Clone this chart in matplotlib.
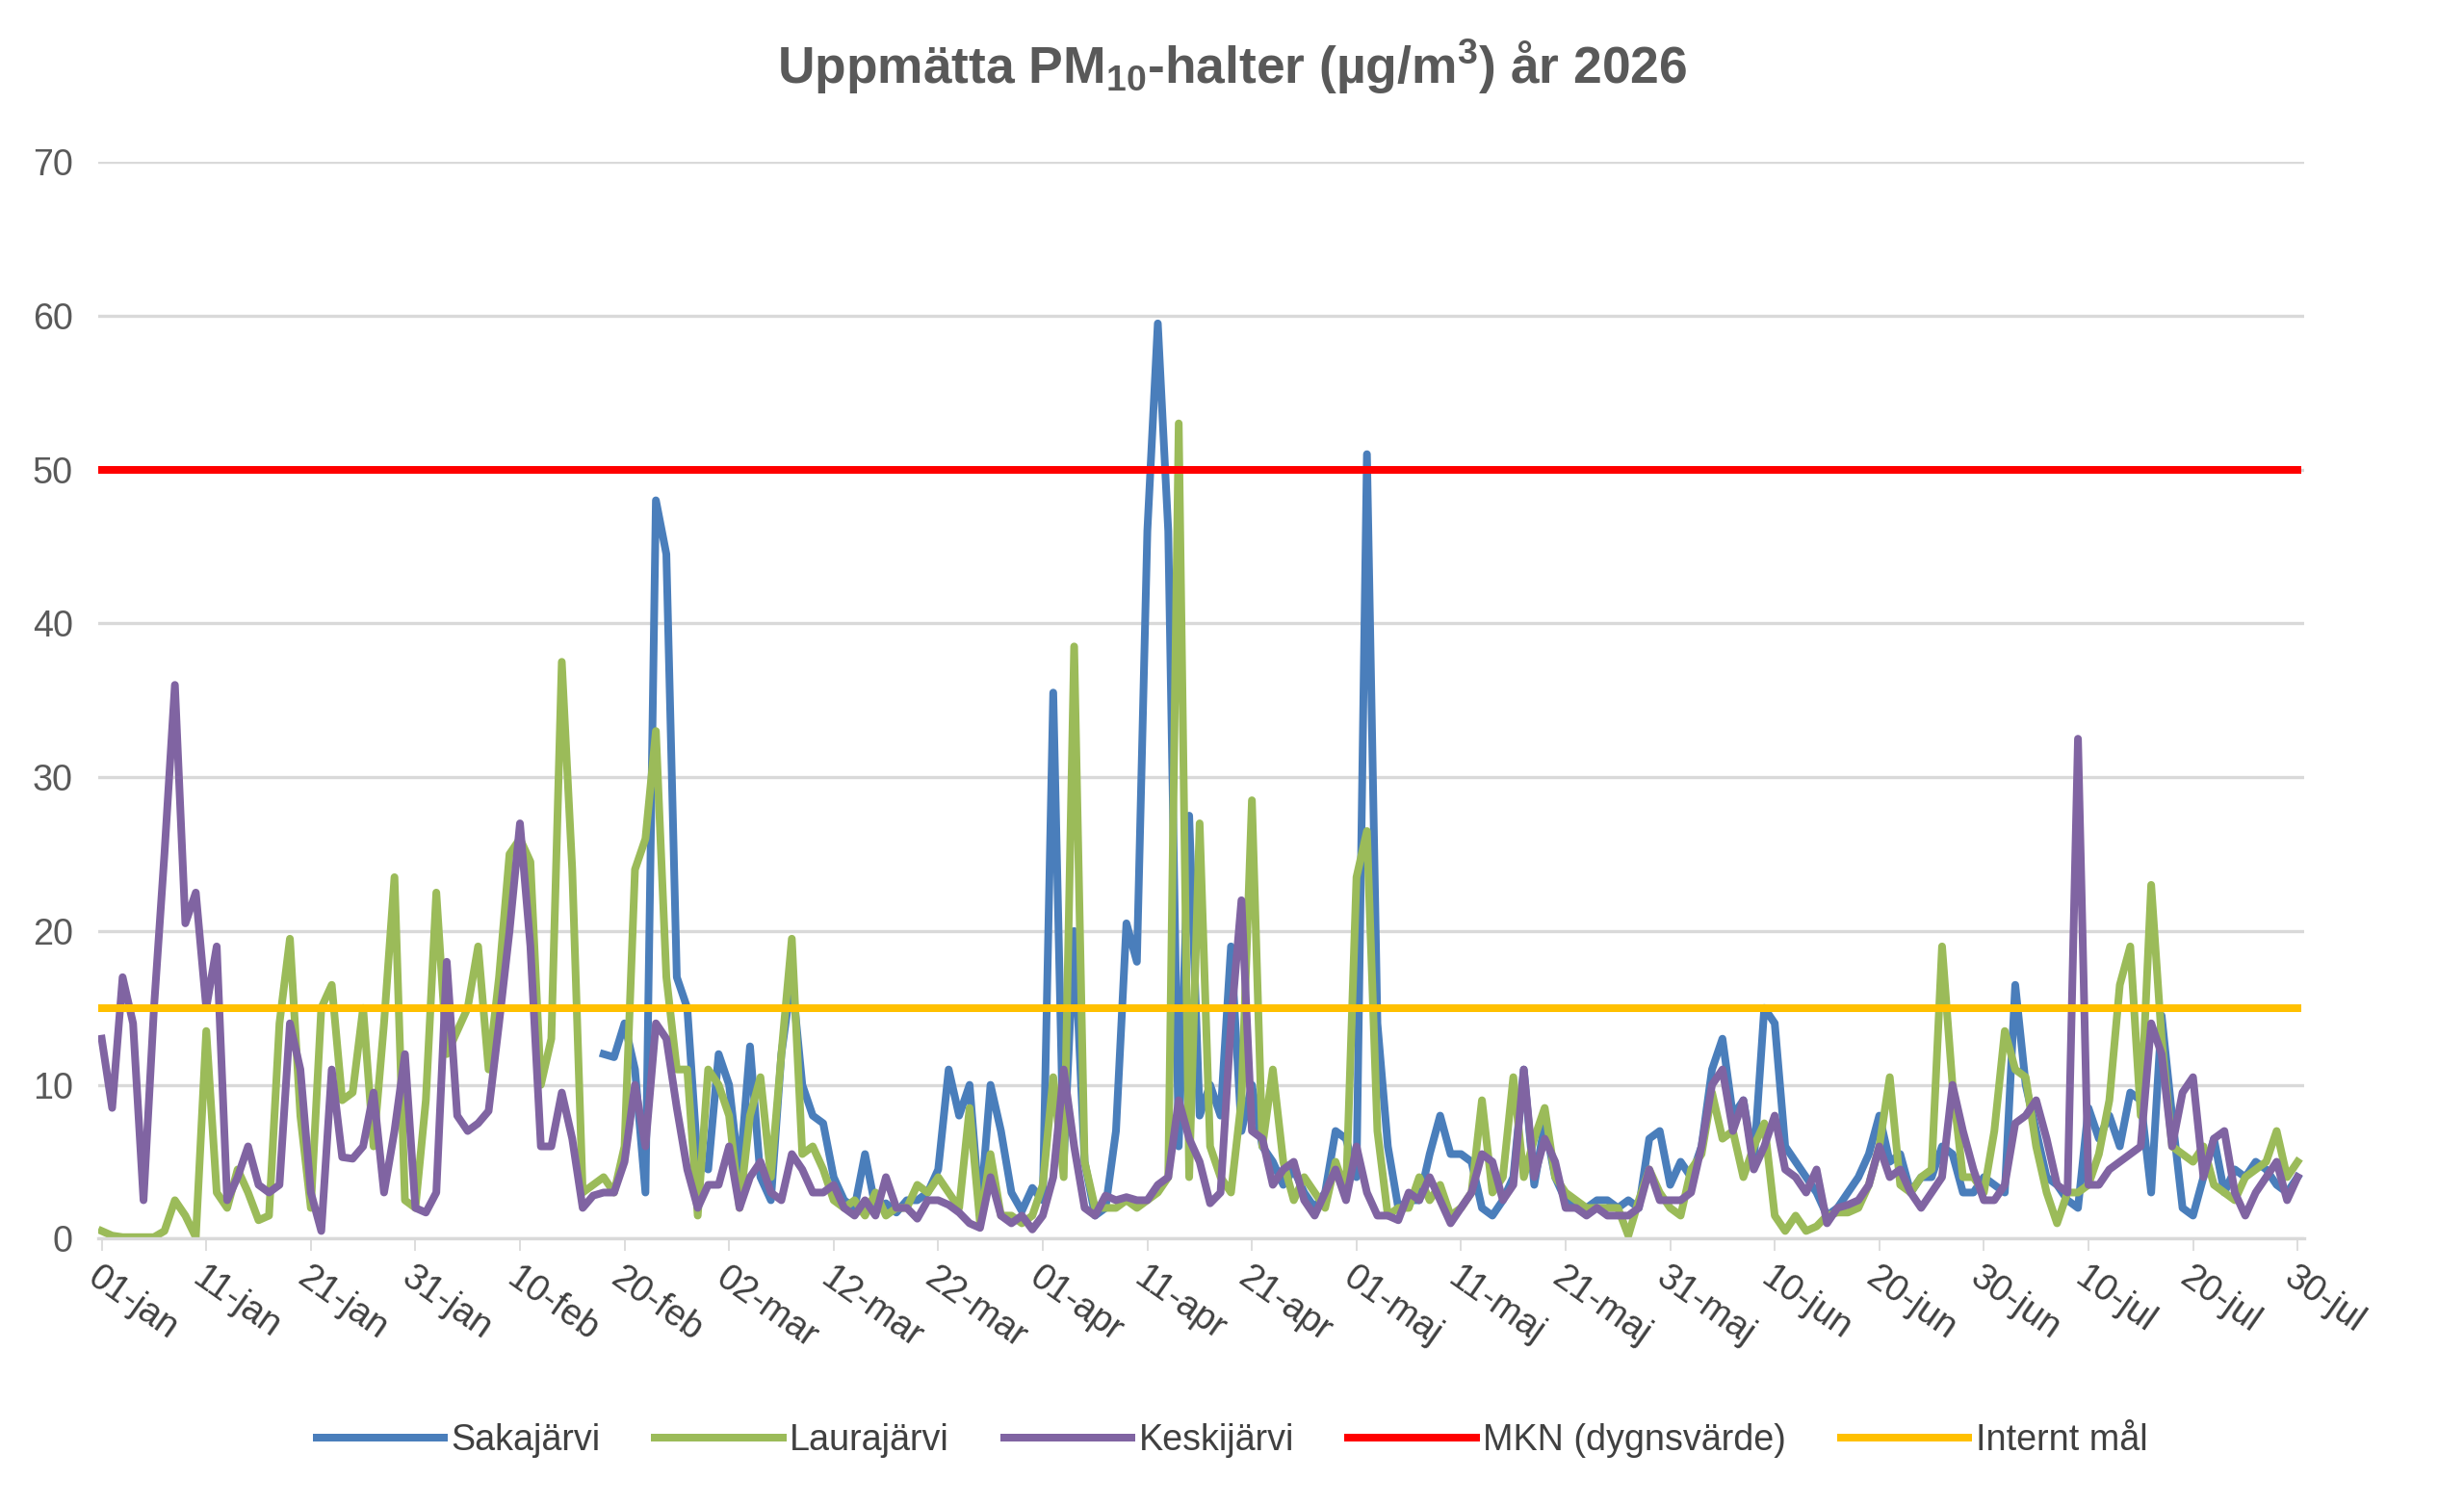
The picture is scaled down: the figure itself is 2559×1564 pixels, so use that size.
import numpy as np
import matplotlib
matplotlib.use("Agg")
import matplotlib.pyplot as plt

tick_labels = ["01-jan","11-jan","21-jan","31-jan","10-feb","20-feb","02-mar","12-mar","22-mar",
               "01-apr","11-apr","21-apr","01-maj","11-maj","21-maj","31-maj","10-jun","20-jun",
               "30-jun","10-jul","20-jul","30-jul"]

nan = np.nan
sakajarvi = [nan]*48 + [
 12,11.8,14,11,3,48,44.5,17,15,5,4.5,12,10,4,12.5,4,2.5,12,17,10,8,7.5,4,2.5,2,5.5,2,2.3,1.7,2.5,
 2.5,3,4.5,11,8,10,1.5,10,7,3,1.8,3.3,2.5,35.5,5,20,5,1.5,2,7,20.5,18,46,59.5,46,6,27.5,8,10,8,
 19,7,10,6,5,3.5,4.5,3,2,3,7,6.5,4,51,14,6,2,2.5,2.5,5.5,8,5.5,5.5,5,2,1.5,2.5,4,11,3.5,
 7.5,4,2.5,2,2,2.5,2.5,2,2.5,2,6.5,7,3.5,5,4,6,11,13,8,9,5,15,14,6,5,4,3,1.5,2,3,4,
 5.5,8,5,5.5,3,4,4,6,5.5,3,3,4,3.5,3,16.5,10,7,4,3.5,2.5,2,8.5,6.5,8,6,9.5,9,3,14.5,8,
 2,1.5,4,6.5,3,4.5,4,5,4.5,3.5,3,4]

laurajarvi = [
 0.5,0.2,0.1,0.1,0.1,0.1,0.5,2.5,1.5,0.1,13.5,3,2,4.5,3,1.2,1.5,14,19.5,8,
 2,15,16.5,9,9.5,15,6,14,23.5,2.5,2,9,22.5,12,13.5,15,19,11,17,25,
 26,24.5,10,13,37.5,24,3,3.5,4,3,6,24,26,33,17,11,11,1.5,11,10,
 8,2,8,10.5,4,12,19.5,5.5,6,4.5,2.5,2,2.5,1.5,3,1.5,2,2,3.5,3,
 4,3,2,8.5,1,5.5,1.5,1.5,1,1.5,3.5,10.5,4,38.5,5,2,2,2,2.5,2,
 2.5,3,4,53,4,27,6,4,3,9,28.5,6,11,5,2.5,4,3,2,5,3,
 23.5,26.5,7,1.5,2,2,4,2.5,3.5,1.5,2,3,9,3,4,10.5,4,6.5,8.5,4,
 3,2.5,2,2,2,2,0.2,2.5,4.5,3,2,1.5,4.5,5.5,9.5,6.5,7,4,6,7.5,1.5,0.5,1.5,
 0.5,0.8,1.5,1.7,1.7,2,3.5,6,10.5,3.5,3,4,4.5,19,10,4,4,3,7,13.5,
 11,10.5,6,3,1,3,3,3.5,5.5,9,16.5,19,8,23,13,6,5.5,5,6,3.5,
 3,2.5,4,4.5,5,7,4,5]

keskijarvi = [
 13,8.5,17,14,2.5,15,25,36,20.5,22.5,15,19,2.5,4,6,3.5,3,3.5,14,11,
 3,0.5,11,5.3,5.2,6,9.5,3,7,12,2,1.7,3,18,8,7,7.5,8.3,14,20,
 27,19,6,6,9.5,6.5,2,2.8,3,3,5,10,6,14,13,8.5,4.5,2,3.5,3.5,
 6,2,4,5,3,2.5,5.5,4.5,3,3,3.5,2,1.5,2.5,1.5,4,2,2,1.3,2.5,
 2.5,2.2,1.7,1,0.7,4,1.5,1,1.5,0.6,1.5,4,11,6,2,1.5,2.8,2.5,2.7,2.5,
 2.5,3.5,4,9,6.5,5,2.3,3,14,22,7,6.5,3.5,4.5,5,2.5,1.5,3,4.5,2.5,
 6,3,1.5,1.5,1.2,3,2.5,4,2.5,1,2,3,5.5,5,2.5,3.5,11,4,6.5,5,
 2,2,1.5,2,1.5,1.5,1.5,2,4.5,2.5,2.5,2.5,3,6,10,11,7,9,4.5,6,8,4.5,4,
 3,4.5,1,2,2.2,2.5,3.5,6,4,4.5,3,2,3,4,10,7,4.5,2.5,2.5,3.5,
 7.5,8,9,6.5,3.5,3,32.5,3.5,3.5,4.5,5,5.5,6,14,12,6,9.5,10.5,4,6.5,
 7,3,1.5,3,4,5,2.5,4]

mkn = 50
internt_mal = 15

plt.rcParams['font.family'] = ['Liberation Sans', 'DejaVu Sans']
plt.rcParams['mathtext.fontset'] = 'custom'
plt.rcParams['mathtext.rm'] = 'Liberation Sans:bold'
plt.rcParams['mathtext.it'] = 'Liberation Sans:bold'
plt.rcParams['mathtext.bf'] = 'Liberation Sans:bold'

fig = plt.figure(figsize=(2559/160, 1564/160), dpi=160)
ax = fig.add_axes([0.040, 0.1775, 0.895, 0.715])

n = len(keskijarvi)
x = np.arange(n)
lw = 3.6
ax.plot(x[:len(sakajarvi)], sakajarvi, color='#4a7ebb', lw=lw, label='Sakajärvi', solid_joinstyle='round')
ax.plot(x[:len(laurajarvi)], laurajarvi, color='#9bbb59', lw=lw, label='Laurajärvi', solid_joinstyle='round')
ax.plot(x, keskijarvi, color='#8064a2', lw=lw, label='Keskijärvi', solid_joinstyle='round')
ax.plot(x, [mkn]*n, color='#ff0000', lw=lw, label='MKN (dygnsvärde)')
ax.plot(x, [internt_mal]*n, color='#ffc000', lw=lw, label='Internt mål')

ax.set_ylim(0, 70)
ax.set_xlim(-0.3, n - 0.4)
ax.set_yticks(range(0, 71, 10))
ax.set_xticks(np.arange(0, n, 10))
ax.set_xticklabels(tick_labels, rotation=-35, ha='left', rotation_mode='anchor')
ax.tick_params(axis='x', labelsize=17, colors='#404040', length=6, color='#d9d9d9', pad=4)
ax.tick_params(axis='y', labelsize=17, colors='#595959', length=0, pad=12)
ax.grid(axis='y', color='#d9d9d9', lw=1.5)
ax.set_axisbelow(True)
for s in ['top', 'right', 'left']:
    ax.spines[s].set_visible(False)
ax.spines['bottom'].set_color('#d9d9d9')
ax.spines['bottom'].set_linewidth(1.5)

fig.suptitle(r'Uppmätta PM$_{10}$-halter (µg/m$^3$) år 2026', x=0.5, y=0.975,
             fontsize=24, fontweight='bold', color='#595959')

fig.legend(loc='lower center', bbox_to_anchor=(0.5, 0.01), ncol=5, frameon=False,
           fontsize=17, handlelength=3.5, columnspacing=1.5, handletextpad=0.2,
           labelcolor='#404040')

fig.savefig('out.png', dpi=160, facecolor='white')
